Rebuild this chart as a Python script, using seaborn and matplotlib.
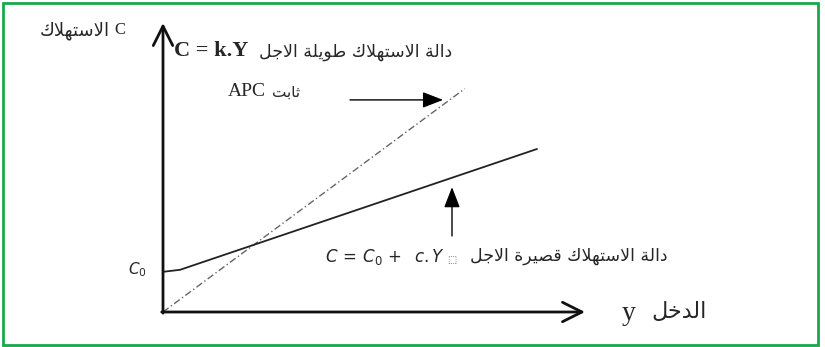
import matplotlib.pyplot as plt
import matplotlib.patches as mpatches
import seaborn as sns

# long-run (dash-dot) and short-run (solid) consumption functions
long_run_y = [0, 7.1]
long_run_c = [0, 7.78]
short_run_y = [0, 0.4, 8.8]
short_run_c = [1.4, 1.47, 5.68]

# labels
c_axis_label = "الاستهلاك"
y_axis_label = "الدخل"
long_run_label = "دالة الاستهلاك طويلة الاجل"
short_run_label = "دالة الاستهلاك قصيرة الاجل"
apc_label = "ثابت"

# minimal arabic shaping (isolated, final, initial, medial)
FORMS = {
    'ا': ('\uFE8D', '\uFE8E', None, None),
    'ب': ('\uFE8F', '\uFE90', '\uFE91', '\uFE92'),
    'ة': ('\uFE93', '\uFE94', None, None),
    'ت': ('\uFE95', '\uFE96', '\uFE97', '\uFE98'),
    'ث': ('\uFE99', '\uFE9A', '\uFE9B', '\uFE9C'),
    'ج': ('\uFE9D', '\uFE9E', '\uFE9F', '\uFEA0'),
    'خ': ('\uFEA5', '\uFEA6', '\uFEA7', '\uFEA8'),
    'د': ('\uFEA9', '\uFEAA', None, None),
    'ر': ('\uFEAD', '\uFEAE', None, None),
    'س': ('\uFEB1', '\uFEB2', '\uFEB3', '\uFEB4'),
    'ص': ('\uFEB9', '\uFEBA', '\uFEBB', '\uFEBC'),
    'ط': ('\uFEC1', '\uFEC2', '\uFEC3', '\uFEC4'),
    'ق': ('\uFED5', '\uFED6', '\uFED7', '\uFED8'),
    'ك': ('\uFED9', '\uFEDA', '\uFEDB', '\uFEDC'),
    'ل': ('\uFEDD', '\uFEDE', '\uFEDF', '\uFEE0'),
    'ه': ('\uFEE9', '\uFEEA', '\uFEEB', '\uFEEC'),
    'و': ('\uFEED', '\uFEEE', None, None),
    'ي': ('\uFEF1', '\uFEF2', '\uFEF3', '\uFEF4'),
    'لا': ('\uFEFB', '\uFEFC', None, None),
}


def shape(text):
    toks = []
    i = 0
    while i < len(text):
        if text[i] == 'ل' and i + 1 < len(text) and text[i + 1] == 'ا':
            toks.append('لا')
            i += 2
        else:
            toks.append(text[i])
            i += 1
    out = []
    for j, t in enumerate(toks):
        if t not in FORMS:
            out.append(t)
            continue
        prev = toks[j - 1] if j > 0 else None
        nxt = toks[j + 1] if j + 1 < len(toks) else None
        joins_prev = prev in FORMS and FORMS[prev][2] is not None
        joins_next = nxt in FORMS and FORMS[t][2] is not None
        iso, fin, ini, med = FORMS[t]
        if joins_prev and joins_next:
            out.append(med)
        elif joins_prev:
            out.append(fin)
        elif joins_next:
            out.append(ini)
        else:
            out.append(iso)
    return ''.join(reversed(out))


sns.set_style("white")
plt.rcParams['font.family'] = ['DejaVu Sans']

W, H = 825, 347
fig = plt.figure(figsize=(W / 100, H / 100), dpi=100)


def px(x, y):
    return x / W, 1 - y / H


# axes: origin at pixel (163, 312), 0..10 on both
ax = fig.add_axes([163 / W, 35 / H, 425 / W, 287 / H])
ax.set_xlim(0, 10)
ax.set_ylim(0, 10)
ax.axis("off")

sns.lineplot(x=long_run_y, y=long_run_c, ax=ax, color="#666666", lw=1.0,
             linestyle=(0, (5, 2, 1, 2)), sort=False)
sns.lineplot(x=short_run_y, y=short_run_c, ax=ax, color="#222222", lw=1.3,
             sort=False)

# axis arrows
ax.annotate("", xy=(0, 10.07), xytext=(0, -0.04), annotation_clip=False,
            arrowprops=dict(arrowstyle="->,head_length=0.7,head_width=0.35",
                            mutation_scale=20, lw=2, color="#111111",
                            shrinkA=0, shrinkB=0))
ax.annotate("", xy=(9.93, 0), xytext=(-0.03, 0), annotation_clip=False,
            arrowprops=dict(arrowstyle="->,head_length=0.7,head_width=0.35",
                            mutation_scale=20, lw=2, color="#111111",
                            shrinkA=0, shrinkB=0))

# pointer arrows
ax.annotate("", xy=(6.59, 7.39), xytext=(4.4, 7.39), annotation_clip=False,
            arrowprops=dict(arrowstyle="-|>,head_length=0.9,head_width=0.35",
                            mutation_scale=14, lw=1, color="black",
                            shrinkA=0, shrinkB=0))
ax.annotate("", xy=(6.8, 4.35), xytext=(6.8, 2.65), annotation_clip=False,
            arrowprops=dict(arrowstyle="-|>,head_length=0.9,head_width=0.35",
                            mutation_scale=14, lw=1, color="black",
                            shrinkA=0, shrinkB=0))

serif = "Liberation Serif"
arab = "DejaVu Sans"

# top-left axis label
fig.text(*px(114, 30), "C", family=serif, fontsize=12, ha="left", va="center")
fig.text(*px(110, 31), shape(c_axis_label), family=arab, fontsize=13,
         ha="right", va="center")

# long-run label
fig.text(*px(174, 51), "C = k.Y", family=serif, fontsize=16, weight="bold",
         ha="left", va="center")
fig.text(*px(452, 52), shape(long_run_label), family=arab, fontsize=12.5,
         ha="right", va="center")

# APC label
fig.text(*px(228, 92), "APC", family=serif, fontsize=14, ha="left", va="center")
fig.text(*px(300, 92), shape(apc_label), family=arab, fontsize=11,
         ha="right", va="center")

# C0 tick label
fig.text(*px(128, 270), r"$C_0$", fontsize=11, ha="left", va="center")

# short-run label
fig.text(*px(325, 257), r"$C\,=\,C_0\,+\;\;c.Y$", fontsize=12, ha="left",
         va="center")
fig.text(*px(452, 260), "\u2b1a", family=arab, fontsize=7, ha="center",
         va="center", color="#666666")
fig.text(*px(667, 256), shape(short_run_label), family=arab, fontsize=12.5,
         ha="right", va="center")

# x axis label
fig.text(*px(622, 313), "y", family=serif, fontsize=20, ha="left",
         va="center")
fig.text(*px(707, 312), shape(y_axis_label), family=arab, fontsize=16,
         ha="right", va="center")

# green frame
fig.patches.append(mpatches.Rectangle(px(3, 345), 815 / W, 342 / H,
                                      transform=fig.transFigure, fill=False,
                                      edgecolor="#18a84a", lw=2))

fig.savefig("out.png", dpi=100)
